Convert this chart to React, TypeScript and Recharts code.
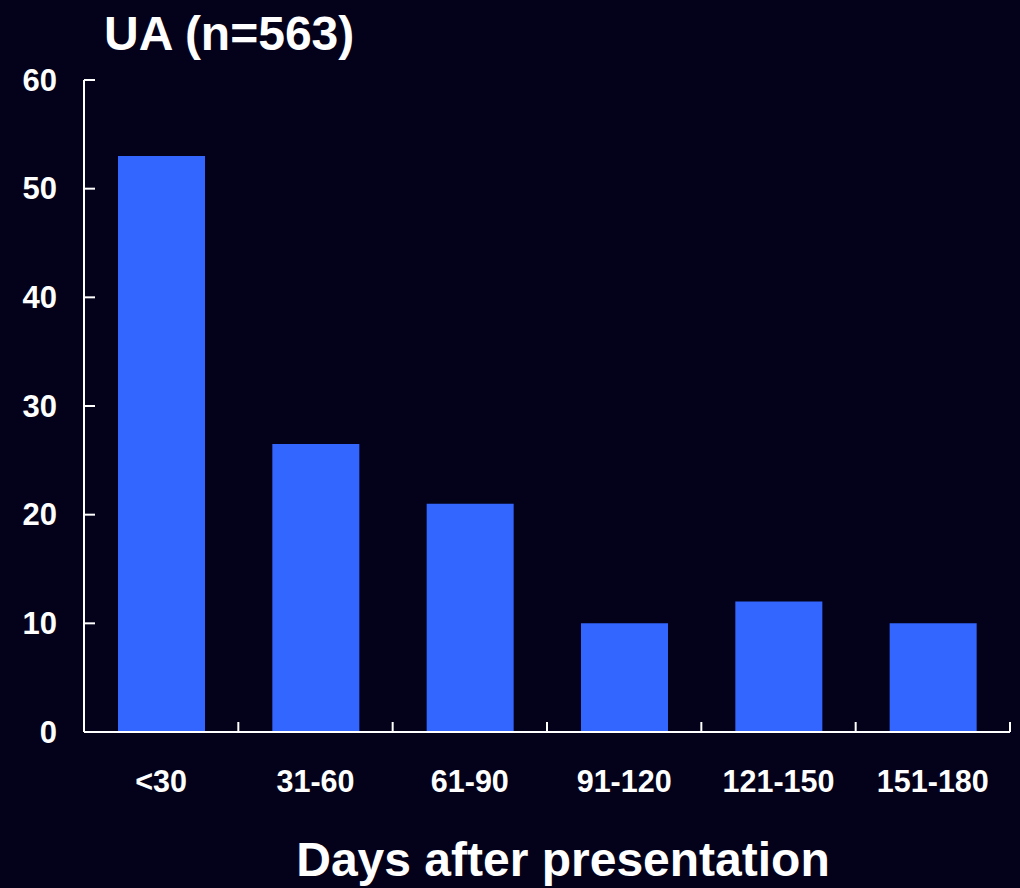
import React from "react";
import { BarChart, Bar, XAxis, YAxis } from "recharts";

const categories = ["<30", "31-60", "61-90", "91-120", "121-150", "151-180"];
const values = [53, 26.5, 21, 10, 12, 10];
const yTicks = [0, 10, 20, 30, 40, 50, 60];

const W = 1020;
const H = 888;
const BG = "#03021a";
const BAR = "#3366ff";
const FONT = "'Liberation Sans', Arial, sans-serif";

const margin = { top: 80, right: 10, bottom: 56, left: 0 };
const Y_W = 84;
const X_H = 100;
const PLOT_W = W - margin.left - margin.right - Y_W;
const BAND = PLOT_W / categories.length;

const Y_TICK_SIZE = 10;
const Y_TICK_MARGIN = 17;

const data = categories.map((name, i) => ({ name, value: values[i] }));

// y ticks point into the plot, labels sit to the left of the axis
function YTick(props: any) {
  const { x, y, payload } = props;
  const axisX = x + Y_TICK_SIZE + Y_TICK_MARGIN;
  return (
    <g>
      <line x1={axisX} x2={axisX + 11} y1={y} y2={y} stroke="#fff" strokeWidth={2} />
      <text
        x={x}
        y={y}
        textAnchor="end"
        dominantBaseline="central"
        fill="#fff"
        fontFamily={FONT}
        fontWeight="bold"
        fontSize={31}
      >
        {payload.value}
      </text>
    </g>
  );
}

// x ticks mark category boundaries and point up
function XTick(props: any) {
  const { x, y, payload, index } = props;
  const right = x + BAND / 2;
  const left = x - BAND / 2;
  return (
    <g>
      {index === 0 && (
        <line x1={left} x2={left} y1={y} y2={y - 10} stroke="#fff" strokeWidth={2} />
      )}
      <line x1={right} x2={right} y1={y} y2={y - 10} stroke="#fff" strokeWidth={2} />
      <text
        x={x}
        y={y + 49}
        textAnchor="middle"
        dominantBaseline="central"
        fill="#fff"
        fontFamily={FONT}
        fontWeight="bold"
        fontSize={30.5}
      >
        {payload.value}
      </text>
    </g>
  );
}

export default function App() {
  return (
    <div style={{ position: "relative", width: W, height: H, background: BG }}>
      <style>{`body{margin:0;background:${BG};}`}</style>
      <BarChart width={W} height={H} data={data} margin={margin}>
        <XAxis
          dataKey="name"
          height={X_H}
          stroke="#fff"
          strokeWidth={2}
          tickLine={false}
          tickSize={0}
          tickMargin={0}
          tick={<XTick />}
          interval={0}
        />
        <YAxis
          width={Y_W}
          domain={[0, 60]}
          ticks={yTicks}
          stroke="#fff"
          strokeWidth={2}
          tickLine={false}
          tickSize={Y_TICK_SIZE}
          tickMargin={Y_TICK_MARGIN}
          tick={<YTick />}
          interval={0}
        />
        <Bar dataKey="value" fill={BAR} barSize={87} isAnimationActive={false} />
      </BarChart>
      <div
        style={{
          position: "absolute",
          left: 104,
          top: 6,
          color: "#fff",
          fontFamily: FONT,
          fontWeight: "bold",
          fontSize: 48,
          lineHeight: "56px",
          whiteSpace: "nowrap",
        }}
      >
        UA (n=563)
      </div>
      <div
        style={{
          position: "absolute",
          left: 0,
          width: 1126,
          top: 832,
          textAlign: "center",
          color: "#fff",
          fontFamily: FONT,
          fontWeight: "bold",
          fontSize: 48,
          lineHeight: "56px",
          whiteSpace: "nowrap",
        }}
      >
        Days after presentation
      </div>
    </div>
  );
}
